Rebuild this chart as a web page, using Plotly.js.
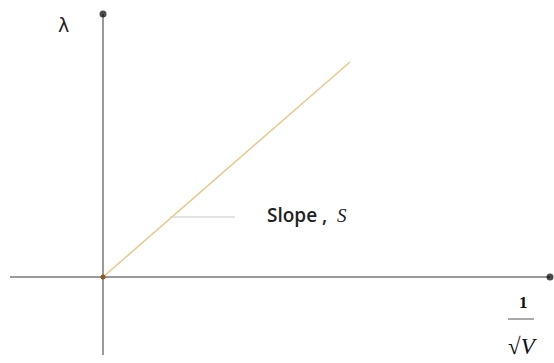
<!DOCTYPE html>
<html>
<head>
<meta charset="utf-8">
<script src="https://cdn.plot.ly/plotly-3.0.1.min.js"></script>
<style>
  html, body { margin: 0; padding: 0; background: #fff; }
  #grafico { width: 554px; height: 363px; }
</style>
</head>
<body>
<div id="grafico"></div>
<script>
// Recta lambda = S / sqrt(V), esquema sin escala
const lineaX = [0, 2.47];
const lineaY = [0, 2.15];

// Ejes dibujados a mano (cruzan en el origen)
const ejeX = [-0.93, 4.47];
const ejeY = [-0.78, 2.63];

// Marca de la pendiente
const marcaX = [0.67, 1.32];
const marcaY = [0.60, 0.60];

const gris = '#9a9a9a';

const trazas = [
    {
        x: ejeX, y: [0, 0],
        mode: 'lines+markers',
        line: { color: gris, width: 2 },
        marker: { color: '#000', size: [0, 7], line: { width: 0 } },
        hoverinfo: 'skip'
    },
    {
        x: [0, 0], y: ejeY,
        mode: 'lines+markers',
        line: { color: gris, width: 2 },
        marker: { color: '#000', size: [0, 7], line: { width: 0 } },
        hoverinfo: 'skip'
    },
    {
        x: marcaX, y: marcaY,
        mode: 'lines',
        line: { color: '#c8c8c8', width: 1 },
        hoverinfo: 'skip'
    },
    {
        x: lineaX, y: lineaY,
        mode: 'lines',
        line: { color: '#ecc68a', width: 1.5 },
        hoverinfo: 'skip'
    },
    {
        x: [lineaX[0]], y: [lineaY[0]],
        mode: 'markers',
        marker: { color: '#8a5a20', size: 5 },
        hoverinfo: 'skip'
    }
];

const layout = {
    width: 554,
    height: 363,
    margin: { l: 0, r: 0, t: 0, b: 0 },
    paper_bgcolor: '#fff',
    plot_bgcolor: '#fff',
    showlegend: false,
    xaxis: { range: [-1.03, 4.51], visible: false, fixedrange: true },
    yaxis: { range: [-0.86, 2.77], visible: false, fixedrange: true },
    annotations: [
        {
            x: -0.40, y: 2.52, text: 'λ', showarrow: false,
            font: { family: 'DejaVu Sans', size: 19, color: '#222' }
        },
        {
            x: 1.62, y: 0.62, text: 'Slope ,  <i><span style="font-family:Liberation Serif;font-weight:400">S</span></i>',
            showarrow: false,
            xanchor: 'left',
            font: { family: 'Open Sans', size: 19, color: '#222', weight: 600 }
        },
        {
            x: 4.20, y: -0.25, text: '1', showarrow: false,
            font: { family: 'Liberation Serif', size: 17, color: '#111', weight: 700 }
        },
        {
            x: 4.20, y: -0.69, text: '√<i>V</i>', showarrow: false,
            font: { family: 'Liberation Serif', size: 23, color: '#111' }
        }
    ],
    shapes: [
        {
            type: 'line', x0: 4.05, x1: 4.31, y0: -0.42, y1: -0.42,
            line: { color: '#555', width: 1 }
        }
    ]
};

Plotly.newPlot('grafico', trazas, layout, { displayModeBar: false, staticPlot: true });
</script>
</body>
</html>
